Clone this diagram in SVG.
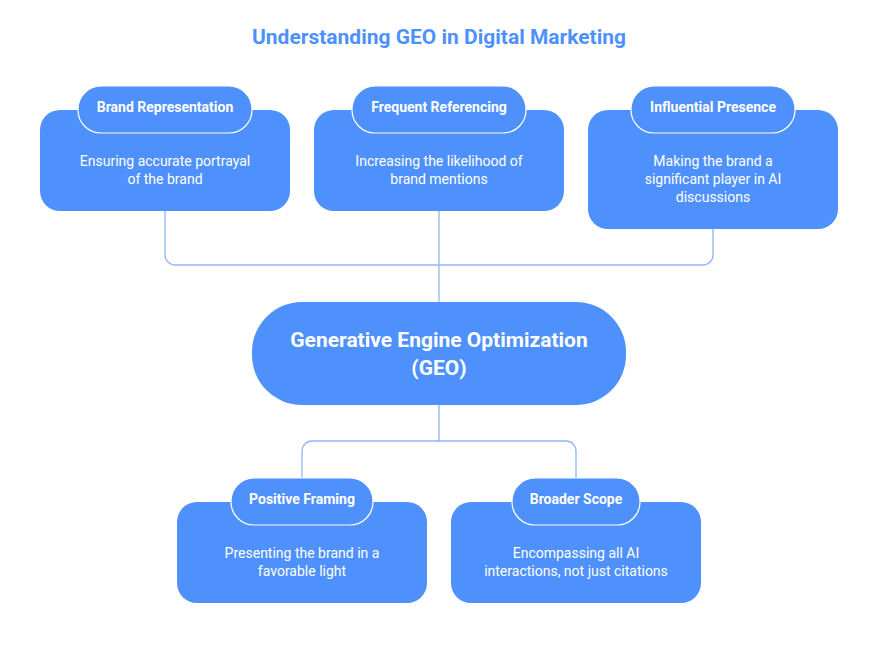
<svg xmlns="http://www.w3.org/2000/svg" width="885" height="645" viewBox="0 0 885 645">
<style>
.box{fill:#4F91FC}
.pill{fill:#4F91FC;stroke:#fff;stroke-width:1.2}
.t{font-family:Roboto,"Liberation Sans",sans-serif;fill:#fff;text-anchor:middle}
.h{font-size:14px;font-weight:bold}
.d{font-size:14px}
.c{fill:none;stroke:#8FB6F8;stroke-width:1.3}
</style>
<rect width="885" height="645" fill="#fff"/>
<text x="439" y="44" class="t" style="fill:#4F91FC;font-size:21px;font-weight:bold">Understanding GEO in Digital Marketing</text>
<g id="connectors">
<path class="c" d="M165 211V255a10 10 0 0 0 10 10H703a10 10 0 0 0 10-10V229"/>
<path class="c" d="M439 211V302"/>
<path class="c" d="M439 405V441H312a10 10 0 0 0-10 10V478M439 441H566a10 10 0 0 1 10 10V478"/>
</g>
<g id="n1"><rect class="box" x="40" y="110" width="250" height="101" rx="20"/><rect class="pill" x="78" y="86" width="174" height="47" rx="23"/>
<text class="t h" x="165" y="112">Brand Representation</text><text class="t d" x="165" y="166">Ensuring accurate portrayal</text><text class="t d" x="165" y="184">of the brand</text></g>
<g id="n2"><rect class="box" x="314" y="110" width="250" height="101" rx="20"/><rect class="pill" x="352" y="86" width="174" height="47" rx="23"/>
<text class="t h" x="439" y="112">Frequent Referencing</text><text class="t d" x="439" y="166">Increasing the likelihood of</text><text class="t d" x="439" y="184">brand mentions</text></g>
<g id="n3"><rect class="box" x="588" y="110" width="250" height="119" rx="20"/><rect class="pill" x="631" y="86" width="164" height="47" rx="23"/>
<text class="t h" x="713" y="112">Influential Presence</text><text class="t d" x="713" y="166">Making the brand a</text><text class="t d" x="713" y="184">significant player in AI</text><text class="t d" x="713" y="202">discussions</text></g>
<g id="center"><rect class="box" x="252" y="302" width="374" height="103" rx="50"/>
<text class="t" style="font-size:21px;font-weight:bold" x="439" y="347">Generative Engine Optimization</text><text class="t" style="font-size:21px;font-weight:bold" x="439" y="375">(GEO)</text></g>
<g id="n4"><rect class="box" x="177" y="502" width="250" height="101" rx="20"/><rect class="pill" x="231" y="478" width="142" height="47" rx="23"/>
<text class="t h" x="302" y="504">Positive Framing</text><text class="t d" x="302" y="558">Presenting the brand in a</text><text class="t d" x="302" y="576">favorable light</text></g>
<g id="n5"><rect class="box" x="451" y="502" width="250" height="101" rx="20"/><rect class="pill" x="512" y="478" width="128" height="47" rx="23"/>
<text class="t h" x="576" y="504">Broader Scope</text><text class="t d" x="576" y="558">Encompassing all AI</text><text class="t d" x="576" y="576">interactions, not just citations</text></g>
</svg>
